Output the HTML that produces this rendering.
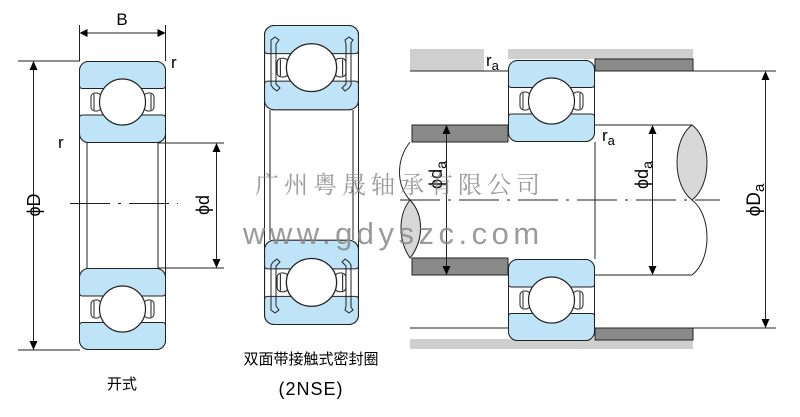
<!DOCTYPE html>
<html><head><meta charset="utf-8"><style>
body{margin:0;background:#fff;width:800px;height:417px;overflow:hidden}
svg{display:block}
text{font-family:"Liberation Sans","Noto Sans CJK SC",sans-serif}
</style></head><body>
<svg width="800" height="417" viewBox="0 0 800 417">
<defs>
<g id="half">
 <rect x="0.5" y="0.5" width="86" height="81" rx="9" fill="#fff" stroke="#222" stroke-width="1"/>
 <path d="M0.5,9.5 a9,9 0 0 1 9,-9 h68 a9,9 0 0 1 9,9 v15 q0,3 -3,3 h-80 q-3,0 -3,-3z" fill="#bfe3f7" stroke="#222" stroke-width="1"/>
 <path d="M0.5,57 q0,-3 3,-3 h80 q3,0 3,3 v15.5 a9,9 0 0 1 -9,9 h-68 a9,9 0 0 1 -9,-9z" fill="#bfe3f7" stroke="#222" stroke-width="1"/>
 <rect x="12" y="32" width="10" height="18" rx="4" fill="#fff" stroke="#222"/>
 <path d="M15,33 v16" stroke="#222"/>
 <rect x="65" y="32" width="10" height="18" rx="4" fill="#fff" stroke="#222"/>
 <path d="M72,33 v16" stroke="#222"/>
 <circle cx="43.5" cy="41" r="23" fill="#fff" stroke="#222" stroke-width="1.2"/>
</g>
</defs>

<!-- LEFT bearing -->
<line x1="87" y1="143" x2="87" y2="268" stroke="#222"/>
<line x1="158" y1="143" x2="158" y2="268" stroke="#222"/>
<line x1="79.5" y1="100" x2="79.5" y2="310" stroke="#222"/>
<line x1="165.5" y1="100" x2="165.5" y2="310" stroke="#222"/>
<use href="#half" transform="translate(79,61)"/>
<use href="#half" transform="translate(79,350) scale(1,-1)"/>
<!-- dims -->
<line x1="79.5" y1="25" x2="79.5" y2="61" stroke="#222"/>
<line x1="165.5" y1="25" x2="165.5" y2="61" stroke="#222"/>
<line x1="81" y1="33" x2="164" y2="33" stroke="#222"/>
<path d="M79.5,33 l8,-4 v8z M165.5,33 l-8,-4 v8z" fill="#000"/>
<text x="122" y="25" font-size="17" text-anchor="middle">B</text>
<text x="171" y="68" font-size="17">r</text>
<text x="58" y="148" font-size="17">r</text>
<line x1="18" y1="61" x2="80" y2="61" stroke="#222"/>
<line x1="18" y1="350" x2="80" y2="350" stroke="#222"/>
<line x1="33.5" y1="62" x2="33.5" y2="349" stroke="#222"/>
<path d="M33.5,61 l-4,9 h8z M33.5,350 l-4,-9 h8z" fill="#000"/>
<text transform="translate(40,205) rotate(-90)" font-size="18" text-anchor="middle">ϕD</text>
<line x1="158" y1="143" x2="224" y2="143" stroke="#222"/>
<line x1="158" y1="268" x2="224" y2="268" stroke="#222"/>
<line x1="216.5" y1="144" x2="216.5" y2="267" stroke="#222"/>
<path d="M216.5,143 l-4,9 h8z M216.5,268 l-4,-9 h8z" fill="#000"/>
<text transform="translate(209,205) rotate(-90)" font-size="18" text-anchor="middle">ϕd</text>
<line x1="70" y1="203.5" x2="178" y2="203.5" stroke="#222" stroke-dasharray="40,8,3,8"/>
<text x="122" y="389" font-size="15" text-anchor="middle">开式</text>

<!-- MIDDLE bearing -->
<line x1="264.5" y1="60" x2="264.5" y2="290" stroke="#222"/>
<line x1="358.5" y1="60" x2="358.5" y2="290" stroke="#222"/>
<line x1="270" y1="110" x2="270" y2="240" stroke="#222"/>
<line x1="353" y1="110" x2="353" y2="240" stroke="#222"/>
<g transform="translate(264,25) scale(1.092,1.04)"><use href="#half"/></g>
<g transform="translate(264,325) scale(1.092,-1.04)"><use href="#half"/></g>
<g fill="none" stroke="#222" stroke-width="1">
<path d="M271,40 l4,-3 4,3 -3,4 v40 l4,4 -3,3 -4,-3 -2,-3 v-42z M345,40 l4,-3 4,3 -2,3 v42 l-2,3 -4,3 -3,-3 4,-4 v-40z"/>
<path d="M271,310 l4,3 4,-3 -3,-4 v-40 l4,-4 -3,-3 -4,3 -2,3 v42z M345,310 l4,3 4,-3 -2,-3 v-42 l-2,-3 -4,-3 -3,3 4,4 v40z"/>
</g>
<text x="311" y="364" font-size="15" text-anchor="middle">双面带接触式密封圈</text>
<text x="311" y="395" font-size="18" text-anchor="middle" letter-spacing="1">(2NSE)</text>

<!-- RIGHT assembly -->
<rect x="410" y="49" width="98" height="22" fill="#cfcfcf"/>
<rect x="484" y="49" width="24" height="22" fill="#fff"/>
<rect x="508" y="49" width="185" height="10" fill="#cfcfcf"/>
<rect x="595" y="59" width="98" height="12" fill="#8a8a8a" stroke="#222"/>
<line x1="410" y1="71" x2="508" y2="71" stroke="#222"/>
<rect x="410" y="339" width="98" height="10" fill="#cfcfcf"/>
<rect x="508" y="339" width="185" height="10" fill="#cfcfcf"/>
<rect x="595" y="328" width="98" height="12" fill="#8a8a8a" stroke="#222"/>
<line x1="410" y1="328" x2="508" y2="328" stroke="#222"/>
<rect x="412" y="125" width="96" height="17" fill="#8a8a8a" stroke="#222"/>
<rect x="412" y="258" width="96" height="17" fill="#8a8a8a" stroke="#222"/>
<path d="M410,142 C396,160 396,185 410,200 C424,215 424,240 410,258" fill="none" stroke="#222"/>
<path d="M410,200 C424,215 424,240 410,258 C398,240 398,215 410,200z" fill="#d8d8d8" stroke="#222"/>
<line x1="595" y1="125" x2="692" y2="125" stroke="#222"/>
<line x1="595" y1="275" x2="692" y2="275" stroke="#222"/>
<path d="M692,125 C712,140 712,185 692,200 C672,185 672,140 692,125z" fill="#d8d8d8" stroke="#222"/>
<path d="M692,200 C712,215 712,260 692,275" fill="none" stroke="#222"/>
<line x1="595" y1="142" x2="595" y2="259" stroke="#222"/>
<use href="#half" transform="translate(508,60)"/>
<use href="#half" transform="translate(508,341) scale(1,-1)"/>
<line x1="400" y1="200" x2="720" y2="200" stroke="#222" stroke-dasharray="40,8,3,8"/>
<text x="486" y="66" font-size="17">r<tspan font-size="13" dy="4">a</tspan></text>
<text x="602" y="141" font-size="17">r<tspan font-size="13" dy="4">a</tspan></text>
<line x1="446.5" y1="126" x2="446.5" y2="274" stroke="#222"/>
<path d="M446.5,125 l-4,9 h8z M446.5,275 l-4,-9 h8z" fill="#000"/>
<text transform="translate(442,175) rotate(-90)" font-size="18" text-anchor="middle">ϕd<tspan font-size="14" dy="4">a</tspan></text>
<line x1="652.5" y1="126" x2="652.5" y2="274" stroke="#222"/>
<path d="M652.5,125 l-4,9 h8z M652.5,275 l-4,-9 h8z" fill="#000"/>
<text transform="translate(648,175) rotate(-90)" font-size="18" text-anchor="middle">ϕd<tspan font-size="14" dy="4">a</tspan></text>
<line x1="693" y1="71" x2="776" y2="71" stroke="#222"/>
<line x1="693" y1="328" x2="776" y2="328" stroke="#222"/>
<line x1="765.5" y1="72" x2="765.5" y2="327" stroke="#222"/>
<path d="M765.5,71 l-4,9 h8z M765.5,328 l-4,-9 h8z" fill="#000"/>
<text transform="translate(760,200) rotate(-90)" font-size="19" text-anchor="middle">ϕD<tspan font-size="15" dy="4">a</tspan></text>

<!-- watermark -->
<text x="255" y="193" font-size="24" fill="#8a8a8a" fill-opacity="0.85" letter-spacing="5" style="font-family:'Noto Serif CJK SC','Noto Sans CJK SC',serif">广州粤晟轴承有限公司</text>
<text x="243" y="244" font-size="31" fill="#8a8a8a" fill-opacity="0.85" letter-spacing="4.5">www.gdyszc.com</text>
</svg>
</body></html>
